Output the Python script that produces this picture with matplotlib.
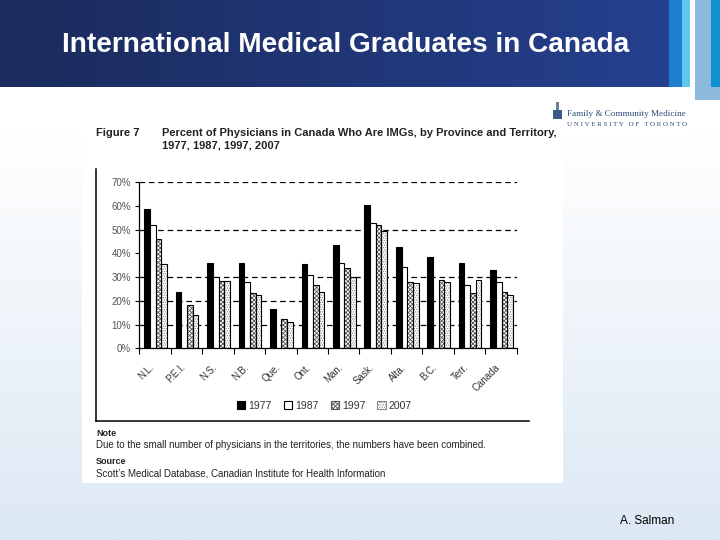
import numpy as np
import matplotlib
matplotlib.use('Agg')
import matplotlib.pyplot as plt
from matplotlib.patches import Rectangle, Patch
import matplotlib.colors as mcolors
import matplotlib.transforms as mtransforms

plt.rcParams['font.family'] = ['Liberation Sans', 'DejaVu Sans']
plt.rcParams['hatch.linewidth'] = 0.6

# ---------------- data ----------------
categories = ['N.L.', 'P.E.I.', 'N.S.', 'N.B.', 'Que.', 'Ont.', 'Man.', 'Sask.',
              'Alta.', 'B.C.', 'Terr.', 'Canada']
years = ['1977', '1987', '1997', '2007']
pct_1977 = [58.8, 23.5, 36.1, 35.7, 16.5, 35.3, 43.4, 60.2, 42.6, 38.4, 35.8, 32.9]
pct_1987 = [52.1, np.nan, 30.2, 27.7, np.nan, 30.7, 35.7, 52.6, 34.4, np.nan, 26.5, 27.7]
pct_1997 = [45.8, 18.1, 28.4, 23.1, 12.2, 26.5, 33.6, 52.1, 27.7, 28.6, 23.2, 23.8]
pct_2007 = [35.3, 13.9, 28.4, 22.3, 10.9, 23.9, 30.2, 49.3, 27.3, 27.7, 28.6, 22.4]
y_ticks = [0, 10, 20, 30, 40, 50, 60, 70]
y_tick_labels = ['0%', '10%', '20%', '30%', '40%', '50%', '60%', '70%']
grid_levels = [10, 20, 30, 50, 70]

slide_title = 'International Medical Graduates in Canada'
fig_label = 'Figure 7'
fig_title1 = 'Percent of Physicians in Canada Who Are IMGs, by Province and Territory,'
fig_title2 = '1977, 1987, 1997, 2007'
note_head = 'Note'
note_text = 'Due to the small number of physicians in the territories, the numbers have been combined.'
source_head = 'Source'
source_text = 'Scott\u2019s Medical Database, Canadian Institute for Health Information'
author = 'A. Salman'

W, H = 720, 540
fig = plt.figure(figsize=(7.2, 5.4), dpi=100)

# ---------------- slide background (pixel coords) ----------------
bg = fig.add_axes([0, 0, 1, 1], zorder=-5)
bg.axis('off')

c_top = np.array(mcolors.to_rgb('#ffffff'))
c_bot = np.array(mcolors.to_rgb('#dce8f4'))
t = np.linspace(0, 1, 256)[:, None]
t = np.clip((t - 0.25) / 0.75, 0, 1)
grad = c_top[None, :] * (1 - t) + c_bot[None, :] * t
bg.imshow(grad[:, None, :], extent=[0, W, H, 0], aspect='auto', zorder=0)

# title band gradient
cl = np.array(mcolors.to_rgb('#1b2b5c'))
cr = np.array(mcolors.to_rgb('#25408e'))
s = np.linspace(0, 1, 256)[None, :, None]
band = cl[None, None, :] * (1 - s) + cr[None, None, :] * s
bg.imshow(band, extent=[0, 669, 87, 0], aspect='auto', zorder=1)
bg.add_patch(Rectangle((669, 0), 13, 87, color='#1b7fce', zorder=2, lw=0))
bg.add_patch(Rectangle((682, 0), 8, 87, color='#62c6f0', zorder=2, lw=0))
bg.add_patch(Rectangle((690, 0), 5, 100, color='#ffffff', zorder=2, lw=0))
bg.add_patch(Rectangle((695, 0), 25, 100, color='#8dbadc', zorder=2, lw=0))
bg.add_patch(Rectangle((711, 0), 9, 87, color='#1190cf', zorder=3, lw=0))
bg.set_xlim(0, W)
bg.set_ylim(H, 0)

bg.text(62, 45, slide_title, color='white', fontsize=20.2, fontweight='bold',
        ha='left', va='center', zorder=4)

# white figure image
bg.add_patch(Rectangle((82, 95), 481, 388, color='white', zorder=2, lw=0))
bg.add_patch(Rectangle((545, 95), 145, 40, color='white', zorder=2, lw=0))

# logo
bg.add_patch(Rectangle((553, 110), 9, 9, facecolor='#3b5a8a', edgecolor='none', zorder=4))
bg.add_patch(Rectangle((556, 102), 3, 8, facecolor='#6a7f9e', edgecolor='none', zorder=4))
bg.text(567, 114, 'Family & Community Medicine', fontsize=6.6, color='#2a4a7a',
        family=['Liberation Serif', 'DejaVu Serif'], ha='left', va='center', zorder=4)
bg.text(567, 124, 'U N I V E R S I T Y   O F   T O R O N T O', fontsize=5.0, color='#2a4a7a',
        family=['Liberation Serif', 'DejaVu Serif'], ha='left', va='center', zorder=4)

# figure titles
bg.text(96, 133, fig_label, fontsize=8, fontweight='bold', color='#222222',
        ha='left', va='center', zorder=4)
bg.text(162, 133, fig_title1, fontsize=8, fontweight='bold', color='#222222',
        ha='left', va='center', zorder=4)
bg.text(162, 146, fig_title2, fontsize=8, fontweight='bold', color='#222222',
        ha='left', va='center', zorder=4)

# frame lines
bg.plot([96, 96], [169, 421], color='black', lw=1.1, zorder=4)
bg.plot([96, 529], [421, 421], color='black', lw=1.1, zorder=4)

# notes
bg.text(96, 434, note_head, fontsize=6.5, fontweight='bold', color='#222222',
        ha='left', va='center', zorder=4)
bg.text(96, 445.5, note_text, fontsize=7, color='#222222', ha='left', va='center', zorder=4)
bg.text(96, 462, source_head, fontsize=6.5, fontweight='bold', color='#222222',
        ha='left', va='center', zorder=4)
bg.text(96, 474, source_text, fontsize=7, color='#222222', ha='left', va='center', zorder=4)

bg.text(620, 521, author, fontsize=8.5, color='black', ha='left', va='center', zorder=4)

# ---------------- chart ----------------
x0, x1, y0, y1 = 139.3, 516.7, 348.3, 182.0
ax = fig.add_axes([x0 / W, 1 - y0 / H, (x1 - x0) / W, (y0 - y1) / H], zorder=1)
ax.patch.set_alpha(0)

n = len(categories)
x = np.arange(n)
bw = 0.18
offs = [-0.27, -0.09, 0.09, 0.27]
shift = 0.02

for lvl in grid_levels:
    ax.axhline(lvl, color='black', lw=0.9, ls=(0, (4.5, 3)), zorder=0)

series = [pct_1977, pct_1987, pct_1997, pct_2007]
styles = [
    dict(face='black', hatch=None, hcol=None),
    dict(face='white', hatch=None, hcol=None),
    dict(face='white', hatch='xxxxxxxx', hcol='#555555'),
    dict(face='white', hatch='.......', hcol='#888888'),
]
for vals, off, st in zip(series, offs, styles):
    xs = x + shift + off
    v = np.array(vals, dtype=float)
    if st['hatch']:
        ax.bar(xs, v, bw, color=st['face'], edgecolor=st['hcol'], hatch=st['hatch'],
               linewidth=0, zorder=2)
        ax.bar(xs, v, bw, facecolor='none', edgecolor='black', linewidth=0.8, zorder=3)
    else:
        ax.bar(xs, v, bw, color=st['face'], edgecolor='black', linewidth=0.8, zorder=2)

ax.set_xlim(-0.5, n - 0.5)
ax.set_ylim(0, 70)
ax.set_yticks(y_ticks)
ax.set_yticklabels(y_tick_labels, fontsize=7, color='#555555')
ax.tick_params(axis='y', length=3, width=0.8, pad=3, color='black')

ax.set_xticks(x)
ax.set_xticklabels(categories, rotation=45, ha='right', rotation_mode='anchor',
                   fontsize=7, color='#333333')
ax.tick_params(axis='x', which='major', length=0, pad=10)
off_tr = mtransforms.ScaledTranslation(-6 / 100, 0, fig.dpi_scale_trans)
for lab in ax.get_xticklabels():
    lab.set_transform(lab.get_transform() + off_tr)
ax.set_xticks(np.arange(-0.5, n, 1.0), minor=True)
ax.tick_params(axis='x', which='minor', length=4, width=0.8, direction='out')

for side in ['top', 'right']:
    ax.spines[side].set_visible(False)
ax.spines['left'].set_linewidth(0.9)
ax.spines['bottom'].set_linewidth(0.9)

handles = [
    Patch(facecolor='black', edgecolor='black', lw=0.8),
    Patch(facecolor='white', edgecolor='black', lw=0.8),
    Patch(facecolor='white', edgecolor='#555555', hatch='xxxxxxxx', lw=0.8),
    Patch(facecolor='white', edgecolor='#888888', hatch='.......', lw=0.8),
]
ax.legend(handles, years, loc='center', bbox_to_anchor=(324.5 / W, 1 - 406 / H),
          bbox_transform=fig.transFigure, ncol=4, frameon=False, fontsize=7.5,
          handlelength=0.8, handleheight=0.8, handletextpad=0.3, columnspacing=1.15,
          labelcolor='#333333')

fig.savefig('out.png', dpi=100)
